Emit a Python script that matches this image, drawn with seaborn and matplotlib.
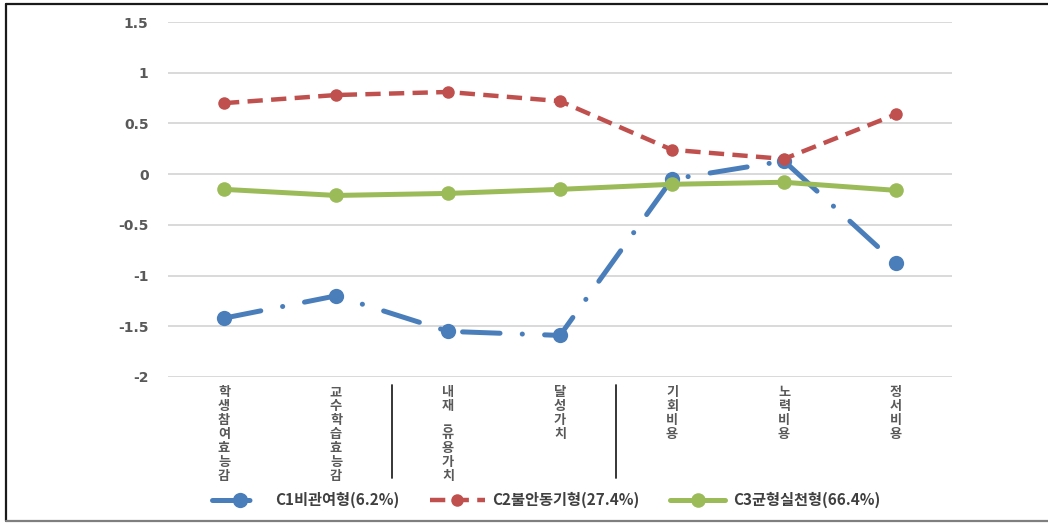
import matplotlib
matplotlib.use("Agg")
import matplotlib.pyplot as plt
import matplotlib.transforms as mtransforms
from matplotlib.lines import Line2D
import seaborn as sns

# Dimensions of the profile (x axis)
categories = ["학생참여효능감", "교수학습효능감", "내재_유용가치", "달성가치",
              "기회비용", "노력비용", "정서비용"]

# Standardised means of each latent class
c1_values = [-1.42, -1.20, -1.55, -1.59, -0.05, 0.13, -0.88]
c2_values = [0.70, 0.78, 0.81, 0.72, 0.24, 0.15, 0.59]
c3_values = [-0.15, -0.21, -0.19, -0.15, -0.10, -0.08, -0.16]

series_names = ["C1비관여형(6.2%)", "C2불안동기형(27.4%)", "C3균형실천형(66.4%)"]

y_ticks = [-2, -1.5, -1, -0.5, 0, 0.5, 1, 1.5]
y_tick_labels = ["-2", "-1.5", "-1", "-0.5", "0", "0.5", "1", "1.5"]

sns.set_theme(style="white")
plt.rcParams["font.family"] = ["Noto Sans CJK KR", "DejaVu Sans"]
plt.rcParams["lines.scale_dashes"] = False

W, H = 1048, 524
fig = plt.figure(figsize=(W / 100, H / 100), dpi=100)
fig.patch.set_facecolor("white")

left, right, top, bottom = 168, 952, 22, 377
ax = fig.add_axes([left / W, 1 - bottom / H, (right - left) / W, (bottom - top) / H])

blue, red, green = "#4A7EBB", "#C0504D", "#9BBB59"
xs = list(range(len(categories)))

sns.lineplot(x=xs, y=c1_values, ax=ax, color=blue, lw=3.6,
             linestyle=(0, (27, 16, 0.1, 16)), dash_capstyle="round",
             marker="o", markersize=11, markeredgewidth=0,
             label=series_names[0], sort=False)
sns.lineplot(x=xs, y=c2_values, ax=ax, color=red, lw=3.2,
             linestyle=(0, (11, 6)), dash_capstyle="butt",
             marker="o", markersize=9, markeredgewidth=0,
             label=series_names[1], sort=False)
sns.lineplot(x=xs, y=c3_values, ax=ax, color=green, lw=3.6,
             linestyle="-", marker="o", markersize=10.5, markeredgewidth=0,
             label=series_names[2], sort=False)

ax.set_xlim(-0.5, len(categories) - 0.5)
ax.set_ylim(-2, 1.5)
ax.set_yticks(y_ticks)
ax.set_yticklabels(y_tick_labels, fontsize=10, fontweight="bold",
                   color="#595959", family=["DejaVu Sans"])
ax.yaxis.grid(True, color="#D9D9D9", linewidth=1.4)
ax.set_axisbelow(True)
for s in ax.spines.values():
    s.set_visible(False)
ax.tick_params(axis="y", length=0, pad=14)
ax.tick_params(axis="x", length=0, pad=6)

ax.set_xticks(xs)
ax.set_xticklabels(["\n".join(c) for c in categories], fontsize=9.5,
                   fontweight="bold", color="#595959", linespacing=1.0,
                   va="top", ha="center")

# Group separators below the axis
trans = mtransforms.blended_transform_factory(ax.transData, ax.transAxes)
for xsep in (1.5, 3.5):
    ax.plot([xsep, xsep], [-(385 - bottom) / (bottom - top), -(478 - bottom) / (bottom - top)],
            transform=trans, color="#262626", lw=1.3, clip_on=False)

ax.get_legend().remove()
handles, labels = ax.get_legend_handles_labels()
leg = fig.legend(handles, labels, loc="center", bbox_to_anchor=(0.521, 1 - 500 / H),
                 ncol=3, frameon=False, handlelength=3.6, columnspacing=2.0,
                 handletextpad=0.5, prop={"size": 11, "weight": "bold"})
for t in leg.get_texts():
    t.set_color("#404040")

# Frame lines around the figure
fig.add_artist(Line2D([5.5 / W, 5.5 / W], [1 - 4 / H, 1 - 521 / H], color="#1a1a1a", lw=1.6))
fig.add_artist(Line2D([5.5 / W, 1.0], [1 - 4 / H, 1 - 4 / H], color="#1a1a1a", lw=1.6))
fig.add_artist(Line2D([5.5 / W, 1.0], [1 - 521 / H, 1 - 521 / H], color="#7f7f7f", lw=1.6))

fig.savefig("out.png", dpi=100, facecolor="white")
